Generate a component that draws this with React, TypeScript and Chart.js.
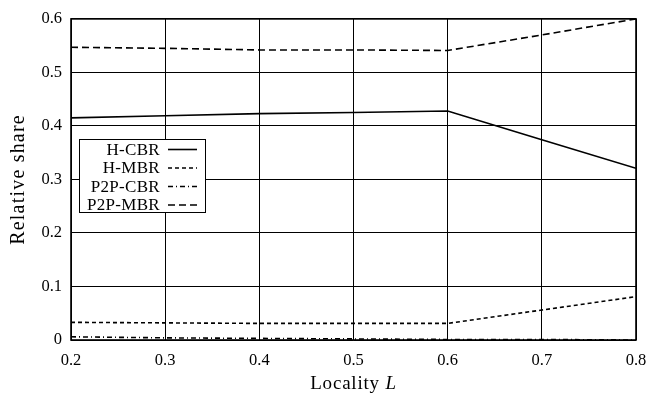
import React, { useEffect, useRef } from "react";
import { Chart, registerables } from "chart.js";

Chart.register(...registerables);

const localities = [0.2, 0.3, 0.4, 0.5, 0.6, 0.7, 0.8];
const hCbr = [0.415, 0.419, 0.423, 0.425, 0.428, 0.374, 0.321];
const hMbr = [0.033, 0.032, 0.031, 0.031, 0.031, 0.056, 0.081];
const p2pCbr = [0.006, 0.004, 0.003, 0.002, 0.001, 0.001, 0.0];
const p2pMbr = [0.547, 0.545, 0.542, 0.542, 0.541, 0.570, 0.600];
const seriesNames = ["H-CBR", "H-MBR", "P2P-CBR", "P2P-MBR"];
const yTicks = [0, 0.1, 0.2, 0.3, 0.4, 0.5, 0.6];

const FONT = "'Liberation Serif', 'DejaVu Serif', serif";

const dashes = [[], [4, 3], [5, 3, 1, 3], [7, 4]];

const overlayPlugin = {
  id: "overlay",
  beforeDraw(chart: any) {
    const ctx = chart.ctx;
    ctx.save();
    ctx.fillStyle = "#fff";
    ctx.fillRect(0, 0, chart.width, chart.height);
    ctx.restore();
  },
  afterDraw(chart: any) {
    const ctx = chart.ctx;
    const area = chart.chartArea;
    ctx.save();
    // border
    ctx.strokeStyle = "#000";
    ctx.lineWidth = 1.6;
    ctx.setLineDash([]);
    ctx.strokeRect(area.left, area.top, area.right - area.left, area.bottom - area.top);

    // legend
    const lx = 79, ly = 139, lw = 126, lh = 73;
    ctx.fillStyle = "#fff";
    ctx.fillRect(lx, ly, lw, lh);
    ctx.lineWidth = 1;
    ctx.strokeRect(lx + 0.5, ly + 0.5, lw, lh);
    (ctx as any).letterSpacing = "0.3px";
    ctx.font = `17px ${FONT}`;
    ctx.fillStyle = "#000";
    ctx.textAlign = "right";
    ctx.textBaseline = "middle";
    chart.data.datasets.forEach((ds: any, i: number) => {
      const y = 149.5 + i * 18.5;
      ctx.fillText(ds.label, 160, y + 1);
      ctx.beginPath();
      ctx.setLineDash(ds.borderDash || []);
      ctx.lineWidth = 1.6;
      ctx.moveTo(168, y);
      ctx.lineTo(197, y);
      ctx.stroke();
    });
    ctx.setLineDash([]);

    // x axis title
    (ctx as any).letterSpacing = "0.8px";
    ctx.textBaseline = "alphabetic";
    const cx = (area.left + area.right) / 2;
    const t1 = "Locality ";
    const t2 = "L";
    ctx.font = `19px ${FONT}`;
    const w1 = ctx.measureText(t1).width;
    ctx.font = `italic 19px ${FONT}`;
    const w2 = ctx.measureText(t2).width;
    const start = cx - (w1 + w2) / 2;
    ctx.textAlign = "left";
    ctx.font = `19px ${FONT}`;
    ctx.fillText(t1, start, 389);
    ctx.font = `italic 19px ${FONT}`;
    ctx.fillText(t2, start + w1, 389);

    // y axis title
    (ctx as any).letterSpacing = "1.2px";
    ctx.font = `20px ${FONT}`;
    ctx.textBaseline = "middle";
    ctx.translate(19, (area.top + area.bottom) / 2);
    ctx.rotate(-Math.PI / 2);
    ctx.textAlign = "center";
    ctx.fillText("Relative share", 0, 0);
    ctx.restore();
  },
};

export default function App() {
  const ref = useRef<HTMLCanvasElement>(null);
  useEffect(() => {
    document.body.style.margin = "0";
    const values = [hCbr, hMbr, p2pCbr, p2pMbr];
    const chart = new Chart(ref.current!, {
      type: "line",
      data: {
        datasets: seriesNames.map((name, i) => ({
          label: name,
          data: localities.map((x, j) => ({ x, y: values[i][j] })),
          borderColor: "#000",
          borderWidth: 1.6,
          borderDash: dashes[i],
          pointRadius: 0,
          fill: false,
          tension: 0,
        })),
      },
      options: {
        animation: false,
        responsive: false,
        layout: { padding: { top: 13, right: 24, left: 0, bottom: 0 } },
        plugins: { legend: { display: false }, tooltip: { enabled: false } },
        scales: {
          x: {
            type: "linear",
            min: 0.2,
            max: 0.8,
            afterFit: (s: any) => { s.height = 54; },
            afterBuildTicks: (s: any) => { s.ticks = localities.map((v) => ({ value: v })); },
            ticks: {
              color: "#000",
              font: { family: FONT, size: 16.5 },
              padding: 11,
              maxRotation: 0,
              callback: (v: any) => Number(v).toFixed(1),
            },
            grid: { color: "#000", lineWidth: 1, drawTicks: false },
            border: { display: false },
          },
          y: {
            type: "linear",
            min: 0,
            max: 0.6,
            afterFit: (s: any) => { s.width = 71; },
            afterBuildTicks: (s: any) => { s.ticks = yTicks.map((v) => ({ value: v })); },
            ticks: {
              color: "#000",
              font: { family: FONT, size: 16.5 },
              padding: 9,
              callback: (v: any) => (Number(v) === 0 ? "0" : Number(v).toFixed(1)),
            },
            grid: { color: "#000", lineWidth: 1, drawTicks: false },
            border: { display: false },
          },
        },
      },
      plugins: [overlayPlugin],
    });
    return () => chart.destroy();
  }, []);
  return (
    <div style={{ position: "absolute", left: 0, top: 0, width: 660, height: 394 }}>
      <canvas ref={ref} width={660} height={394} style={{ width: 660, height: 394 }} />
    </div>
  );
}
